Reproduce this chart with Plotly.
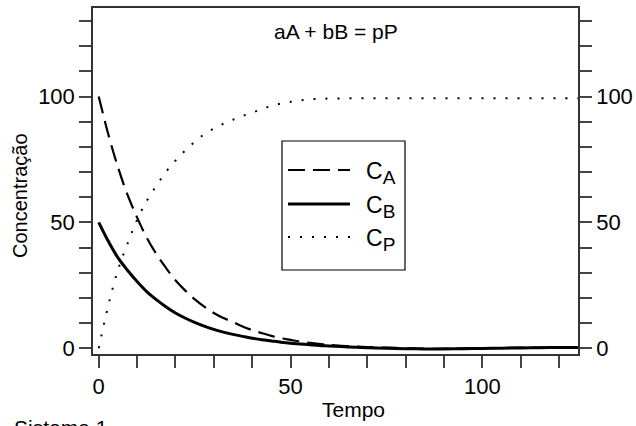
import plotly.graph_objects as go

# ---- data ----
tempo = [0, 2.5, 5, 7.5, 10, 12.5, 15, 17.5, 20, 22.5, 25, 27.5, 30, 32.5, 35, 37.5,
         40, 42.5, 45, 47.5, 50, 52.5, 55, 57.5, 60, 65, 70, 75, 80, 85, 90, 95,
         100, 105, 110, 115, 120, 125]
c_a = [100, 85, 72, 61, 52, 44, 37.5, 32, 27, 23, 19.5, 16.5, 14, 12, 10.4, 8.6,
       7.2, 6, 4.9, 4.0, 3.3, 2.6, 2.1, 1.7, 1.3, 0.8, 0.4, 0.2, 0, -0.2, -0.2, -0.1,
       0, 0.1, 0.2, 0.2, 0.3, 0.3]
c_b = [50, 42.5, 36, 31, 26.5, 22.5, 19.3, 16.5, 14, 12, 10.3, 8.8, 7.5, 6.4, 5.5, 4.7,
       4.0, 3.4, 2.9, 2.4, 2.0, 1.7, 1.4, 1.1, 0.9, 0.5, 0.2, 0, -0.2, -0.3, -0.3, -0.2,
       -0.1, 0, 0.1, 0.2, 0.3, 0.3]
c_p = [0, 17, 31, 41.5, 51, 58.5, 64.5, 70, 74.5, 78.5, 82, 85, 87.3, 89.2, 90.8, 92.3,
       93.6, 95, 96.3, 97.2, 97.9, 98.5, 98.9, 99.1, 99.2, 99.3, 99.3, 99.3, 99.3, 99.3, 99.3, 99.3,
       99.3, 99.3, 99.3, 99.3, 99.3, 99.3]

series_main = ["C", "C", "C"]
series_sub = ["A", "B", "P"]
title_text = "aA + bB = pP"
x_title = "Tempo"
y_title = "Concentração"
footer = "Sistema 1"
x_ticks = [0, 50, 100]
y_ticks = [0, 50, 100]

FONT = "Arial, 'Liberation Sans', sans-serif"
W, H = 636, 426
ML, MR, MT, MB = 93, 58, 8, 72
PW, PH = W - ML - MR, H - MT - MB


def px(xp):
    return (xp - ML) / PW


def py(yp):
    return (H - MB - yp) / PH


styles = [
    dict(color="black", width=2.2, dash="17px,8px"),
    dict(color="black", width=3),
    dict(color="black", width=2, dash="2px,10px"),
]
names = [f"{m}<sub><span style='font-size:19px'>{s}</span></sub>"
         for m, s in zip(series_main, series_sub)]

fig = go.Figure()
for name, vals, st in zip(names, [c_a, c_b, c_p], styles):
    fig.add_trace(go.Scatter(x=tempo, y=vals, mode="lines", name=name,
                             line=dict(shape="spline", **st), showlegend=False,
                             hoverinfo="skip"))
# invisible trace to activate right-hand axis
fig.add_trace(go.Scatter(x=tempo, y=c_p, yaxis="y2", mode="lines", opacity=0,
                         showlegend=False, hoverinfo="skip"))

xr = [-1.49, 124.95]
yr = [-2.3, 135.2]
axis_common = dict(ticks="outside", ticklen=12, tickwidth=1.5, tickcolor="#444",
                   showline=True, linecolor="#333", linewidth=1.5, showgrid=False,
                   zeroline=False, automargin=False,
                   tickfont=dict(family=FONT, size=22, color="black"))
minor = dict(dtick=10, tick0=0, ticks="outside", ticklen=12, tickwidth=1.5, tickcolor="#444")

fig.update_layout(
    width=W, height=H,
    margin=dict(l=ML, r=MR, t=MT, b=MB, autoexpand=False),
    paper_bgcolor="white", plot_bgcolor="white",
    font=dict(family=FONT, color="black"),
    xaxis=dict(range=xr, tickmode="array", tickvals=x_ticks, mirror=True, minor=minor,
               **axis_common),
    yaxis=dict(range=yr, tickmode="array", tickvals=y_ticks, mirror=True, minor=minor,
               **axis_common),
    yaxis2=dict(range=yr, overlaying="y", side="right", tickmode="array", tickvals=y_ticks,
                minor=minor, **axis_common),
)

ann = [
    dict(text=title_text, x=0.5, y=py(32), xref="paper", yref="paper", showarrow=False,
         font=dict(size=21, family=FONT, color="black"), xanchor="center", yanchor="middle"),
    dict(text=x_title, x=px(353), y=py(409), xref="paper", yref="paper", showarrow=False,
         font=dict(size=21, family=FONT, color="black"), xanchor="center", yanchor="middle"),
    dict(text=y_title, x=px(20), y=py(196), xref="paper", yref="paper", showarrow=False,
         textangle=-90, font=dict(size=20, family=FONT, color="black"),
         xanchor="center", yanchor="middle"),
    dict(text=footer, x=px(12), y=py(414), xref="paper", yref="paper", showarrow=False,
         font=dict(size=21, family=FONT, color="black"), xanchor="left", yanchor="top"),
]
# legend (drawn as decoration)
shapes = [dict(type="rect", xref="paper", yref="paper", x0=px(282), x1=px(405),
               y0=py(270), y1=py(141), line=dict(color="black", width=1.2),
               fillcolor="white", layer="above")]
leg_y = [170, 204, 237]
for name, st, yy in zip(names, styles, leg_y):
    shapes.append(dict(type="line", xref="paper", yref="paper", x0=px(288), x1=px(350),
                       y0=py(yy), y1=py(yy), line=st, layer="above"))
    ann.append(dict(text=name, x=px(364), y=py(yy + 3), xref="paper", yref="paper",
                    showarrow=False, xanchor="left", yanchor="middle",
                    font=dict(size=23, family=FONT, color="black")))
fig.update_layout(annotations=ann, shapes=shapes)

fig.write_html("out.html", config={"displayModeBar": False},
               post_script="document.body.style.margin='0';document.body.style.overflow='hidden';")
